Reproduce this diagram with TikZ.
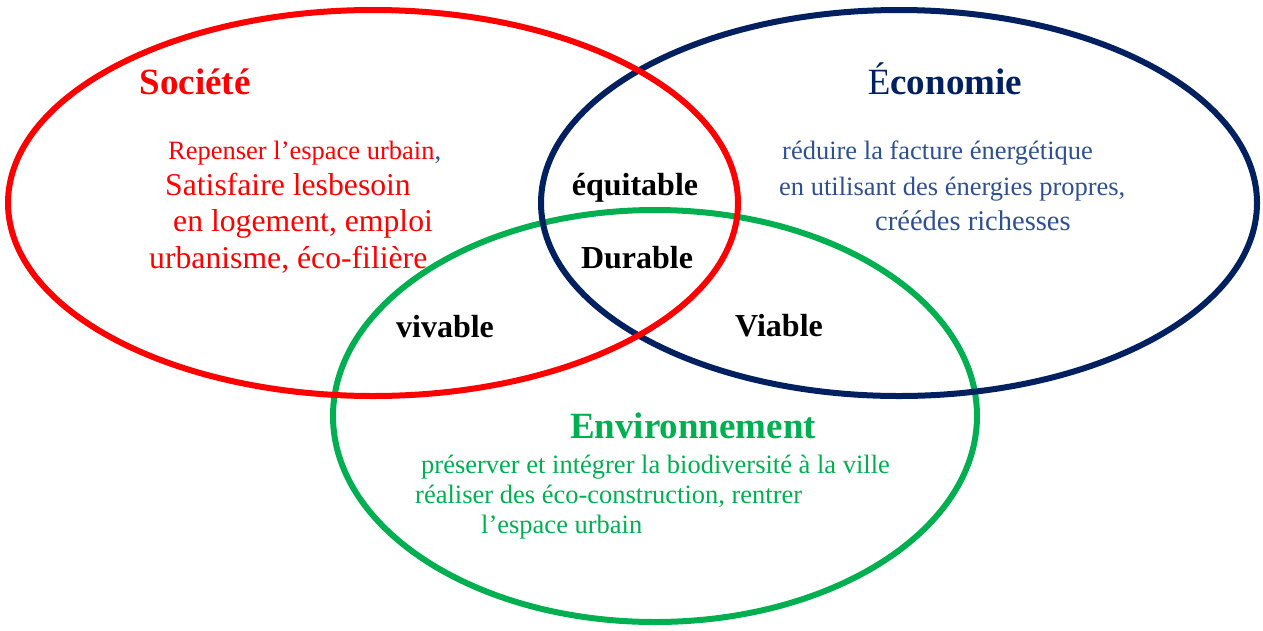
\documentclass[tikz,border=0pt]{standalone}
\usepackage{fontspec}
\setmainfont{Liberation Serif}
\definecolor{socred}{HTML}{FF0000}
\definecolor{econavy}{HTML}{002060}
\definecolor{econtext}{HTML}{2F5090}
\definecolor{envgreen}{HTML}{00B050}
\tikzset{
  ring/.style={line width=6pt},
  title/.style={anchor=base, inner sep=0pt, font=\fontsize{37}{40}\selectfont\bfseries},
  label/.style={anchor=base, inner sep=0pt, font=\fontsize{32}{36}\selectfont\bfseries, text=black},
  smalltext/.style={anchor=base west, inner sep=0pt, font=\fontsize{26.5}{30}\selectfont},
  bigtext/.style={anchor=base west, inner sep=0pt, font=\fontsize{31.7}{36}\selectfont},
}
\begin{document}
\begin{tikzpicture}[x=1pt,y=-1pt]
\useasboundingbox (0,0) rectangle (1263,630);
% circles
\draw[ring, envgreen] (655,416) ellipse [x radius=322pt, y radius=206pt];
\draw[ring, econavy] (899,203) ellipse [x radius=358pt, y radius=193pt];
\draw[ring, socred] (373,203) ellipse [x radius=365pt, y radius=193pt];
% titles
\node[title, text=socred] (soc) at (195,94) {Société};
\node[title, text=econavy] (eco) at (945,94) {{\mdseries É}conomie};
\node[title, text=envgreen] (env) at (693,438) {Environnement};
% society text
\node[smalltext, text=socred] (s1) at (168,159) {Repenser l’espace urbain\textcolor{econtext}{,}};
\node[bigtext, text=socred] (s2) at (165,195) {Satisfaire lesbesoin};
\node[bigtext, text=socred] (s3) at (173,231) {en logement, emploi};
\node[bigtext, text=socred] (s4) at (149,268) {urbanisme, éco-filière};
% economy text
\node[smalltext, text=econtext] (e1) at (782,159) {réduire la facture énergétique};
\node[smalltext, text=econtext] (e2) at (779,195) {en utilisant des énergies propres,};
\node[smalltext, text=econtext, font=\fontsize{28.5}{32}\selectfont] (e3) at (875,230) {créédes richesses};
% environment text
\node[smalltext, text=envgreen] (v1) at (421,473) {préserver et intégrer la biodiversité à la ville};
\node[smalltext, text=envgreen] (v2) at (415,503) {réaliser des éco-construction, rentrer};
\node[smalltext, text=envgreen] (v3) at (481,533) {l’espace urbain};
% intersection labels
\node[label] (equ) at (635,195) {équitable};
\node[label] (dur) at (637,268) {Durable};
\node[label] (viv) at (445,337) {vivable};
\node[label] (via) at (779,336) {Viable};
\end{tikzpicture}
\end{document}
